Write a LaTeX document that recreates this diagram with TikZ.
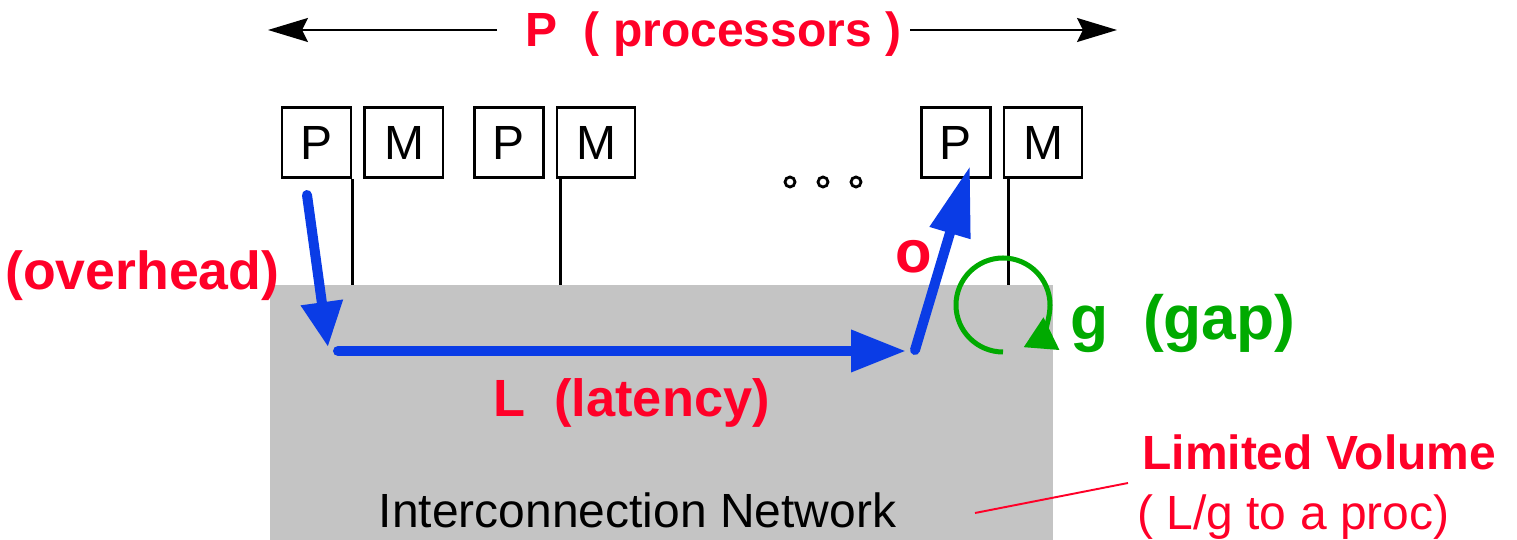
\documentclass[tikz,border=0pt]{standalone}
\usepackage{fontspec}
\setmainfont{Liberation Sans}
\usepackage{xcolor}
\usetikzlibrary{arrows.meta, positioning}
\definecolor{logpred}{RGB}{255,0,40}
\definecolor{logpblue}{RGB}{10,60,230}
\definecolor{logpgreen}{RGB}{0,170,0}
\tikzset{
	unitbox/.style={shape=rectangle, draw, line width=1.7pt, inner sep=0pt, minimum height=1.4cm, font=\fontsize{27.3}{30}\selectfont},
	pbox/.style={unitbox, minimum width=1.38cm},
	mbox/.style={unitbox, minimum width=1.56cm},
	wire/.style={line width=1.4pt},
	dot/.style={shape=circle, draw, line width=1.6pt, inner sep=0pt, minimum size=0.2cm},
	txt/.style={inner sep=0pt, anchor=base west},
	msgarrow/.style={draw=logpblue, fill=logpblue, line width=5.7pt, line cap=round, -{Triangle[length=#1, width=0.8cm]}},
	msgarrow/.default=1.1cm,
	dimarrow/.style={line width=1.2pt, -{Stealth[length=0.8cm, width=0.48cm, inset=0.12cm]}}
}

\begin{document}
\begin{tikzpicture}
			\useasboundingbox (0,0) rectangle (30.34,10.8);
			% Paths, nodes and wires:
			\node[shape=rectangle, fill=black!23, draw=none, inner sep=0pt, minimum width=15.66cm, minimum height=5.1cm](net) at (13.23, 2.55){};
			\node[txt, font=\fontsize{27.3}{30}\selectfont](netname) at (7.57, 0.24){Interconnection Network};
			\node[pbox](P1) at (6.33, 7.94){P};
			\node[mbox, right=0.22cm of P1](M1){M};
			\node[pbox](P2) at (10.17, 7.94){P};
			\node[mbox, right=0.22cm of P2](M2){M};
			\node[pbox](P3) at (19.11, 7.94){P};
			\node[mbox, right=0.22cm of P3](M3){M};
			\coordinate (tap1) at (P1.south east);
			\coordinate (tap2) at ([xshift=0.1cm]M2.south west);
			\coordinate (tap3) at ([xshift=0.12cm]M3.south west);
			\foreach \t in {tap1, tap2, tap3}
				\draw[wire] (\t) -- (\t |- net.north);
			\foreach \x [count=\i] in {15.8, 16.46, 17.12}
				\node[dot](D\i) at (\x, 7.16){};
			% processors arrow
			\node[txt, text=logpred, font=\fontsize{27.3}{30}\selectfont\bfseries](title) at (10.5, 9.86){P\ \ ( processors )};
			\coordinate (Ltip) at (5.36, 10.2);
			\coordinate (Lend) at (9.94, 10.2);
			\coordinate (Rtip) at (22.34, 10.2);
			\coordinate (Rend) at (18.2, 10.2);
			\draw[dimarrow] (Lend) -- (Ltip);
			\draw[dimarrow] (Rend) -- (Rtip);
			% message path
			\coordinate (send) at (6.14, 6.9);
			\coordinate (inj) at (6.56, 3.86);
			\coordinate (net0) at (6.76, 3.78);
			\coordinate (net1) at (18.12, 3.78);
			\coordinate (ej) at (18.3, 3.8);
			\coordinate (recv) at (19.4, 7.48);
			\draw[msgarrow=0.9cm] (send) -- (inj);
			\draw[msgarrow] (net0) -- (net1);
			\draw[msgarrow=1.4cm] (ej) -- (recv);
			\node[txt, text=logpred, font=\fontsize{30.5}{33}\selectfont\bfseries](ovh) at (0.1, 5.0){(overhead)};
			\node[txt, text=logpred, font=\fontsize{34}{37}\selectfont\bfseries](o) at (17.9, 5.34){o};
			\node[txt, text=logpred, font=\fontsize{29.8}{32}\selectfont\bfseries](lat) at (9.86, 2.46){L\ \ (latency)};
			% gap
			\coordinate (gc) at (20.06, 4.7);
			\draw[logpgreen, line width=2.85pt, -{Triangle[length=0.62cm, width=0.7cm]}] ([yshift=-0.94cm]gc) arc[start angle=270, end angle=-64, radius=0.94cm];
			\node[txt, text=logpgreen, font=\fontsize{35.5}{38}\selectfont\bfseries](gap) at (21.4, 4.0){g\ \ (gap)};
			% volume
			\node[txt, text=logpred, font=\fontsize{27.3}{30}\selectfont\bfseries](vol) at (22.84, 1.4){Limited Volume};
			\node[txt, text=logpred, font=\fontsize{27.3}{30}\selectfont](volsub) at (22.74, 0.2){( L/g to a proc)};
			\coordinate (lead0) at (19.5, 0.54);
			\coordinate (lead1) at (22.56, 1.14);
			\draw[logpred, line width=1.1pt] (lead0) -- (lead1);
		\end{tikzpicture}
\end{document}
